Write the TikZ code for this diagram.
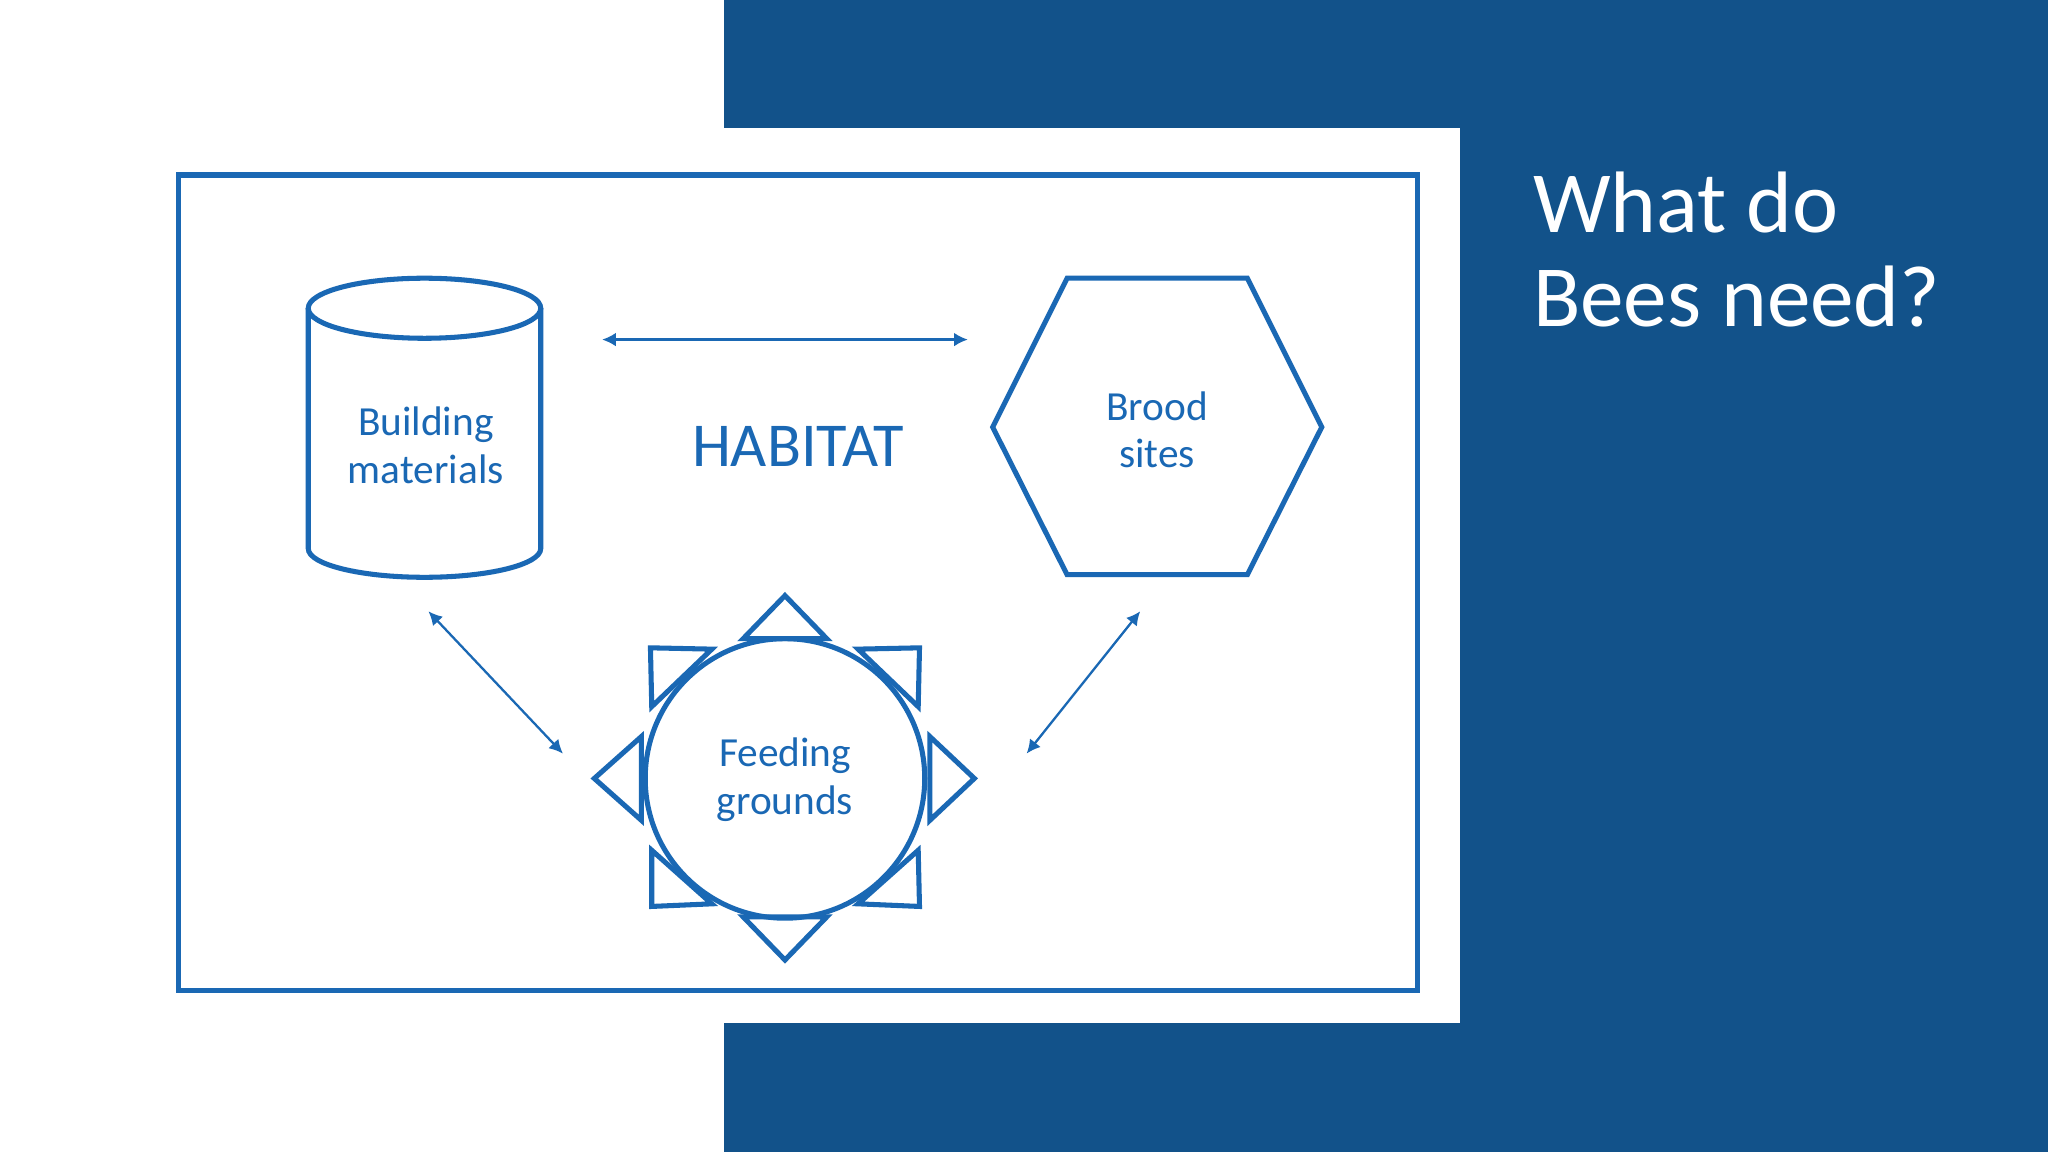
\documentclass[tikz,border=0pt]{standalone}
\usepackage{fontspec}
\setmainfont{Carlito}
\usetikzlibrary{arrows.meta}
\definecolor{darkblue}{HTML}{12528A}
\definecolor{lineblue}{HTML}{1A68B4}
\tikzset{
  shp/.style={draw=lineblue,line width=1.1pt,line join=miter},
  lbl/.style={text=lineblue,font=\fontsize{9pt}{10.3pt}\selectfont,align=center},
  dbl/.style={draw=lineblue,line width=0.5pt,{Latex[length=3pt,width=3pt]}-{Latex[length=3pt,width=3pt]}},
}
\begin{document}
\begin{tikzpicture}[x=0.01cm,y=-0.01cm]
\useasboundingbox (0,0) rectangle (1568,882);
\fill[darkblue] (554,0) rectangle (1568,882);
\fill[white] (0,98) rectangle (1118,783);
\draw[shp] (137,134) rectangle (1085,758);
% cylinder
\draw[shp] (236,236) -- (236,420) arc[start angle=180,end angle=0,x radius=89,y radius=22] -- (414,236);
\draw[shp] (325,236) ellipse [x radius=89,y radius=23];
\node[lbl] (bm) at (326,341) {Building\\materials};
% hexagon
\draw[shp] (817,213) -- (955,213) -- (1012,327) -- (955,440) -- (817,440) -- (760,327) -- cycle;
\node[lbl] (bs) at (886,329) {Brood\\sites};
\node[text=lineblue,font=\fontsize{13.6pt}{15pt}\selectfont] (hab) at (611,342) {HABITAT};
% arrows
\coordinate (a1) at (461,260); \coordinate (a2) at (741,260);
\coordinate (b1) at (328,468); \coordinate (b2) at (431,577);
\coordinate (c1) at (873,468); \coordinate (c2) at (786,577);
\draw[dbl] (a1) -- (a2);
\draw[dbl] (b1) -- (b2);
\draw[dbl] (c1) -- (c2);
% circle
\draw[shp] (601,596) circle [radius=107];
\node[lbl] (fg) at (601,597) {Feeding\\grounds};
\draw[shp] (569,489) -- (601,456) -- (633,489) -- cycle;
\draw[shp] (569,702) -- (601,735) -- (633,702) -- cycle;
\draw[shp] (712,564) -- (746,596) -- (712,628) -- cycle;
\draw[shp] (491,564) -- (455,596) -- (491,628) -- cycle;
\draw[shp] (498,496) -- (545,497) -- (499,541) -- cycle;
\draw[shp] (704,496) -- (657,497) -- (703,541) -- cycle;
\draw[shp] (499,651) -- (499,694) -- (545,692) -- cycle;
\draw[shp] (703,651) -- (704,694) -- (657,692) -- cycle;
% title
\node[text=white,anchor=north west,align=left,inner sep=0pt,font=\fontsize{19pt}{20.5pt}\selectfont] (title) at (1173,131) {What do\\Bees need?};
\end{tikzpicture}
\end{document}
